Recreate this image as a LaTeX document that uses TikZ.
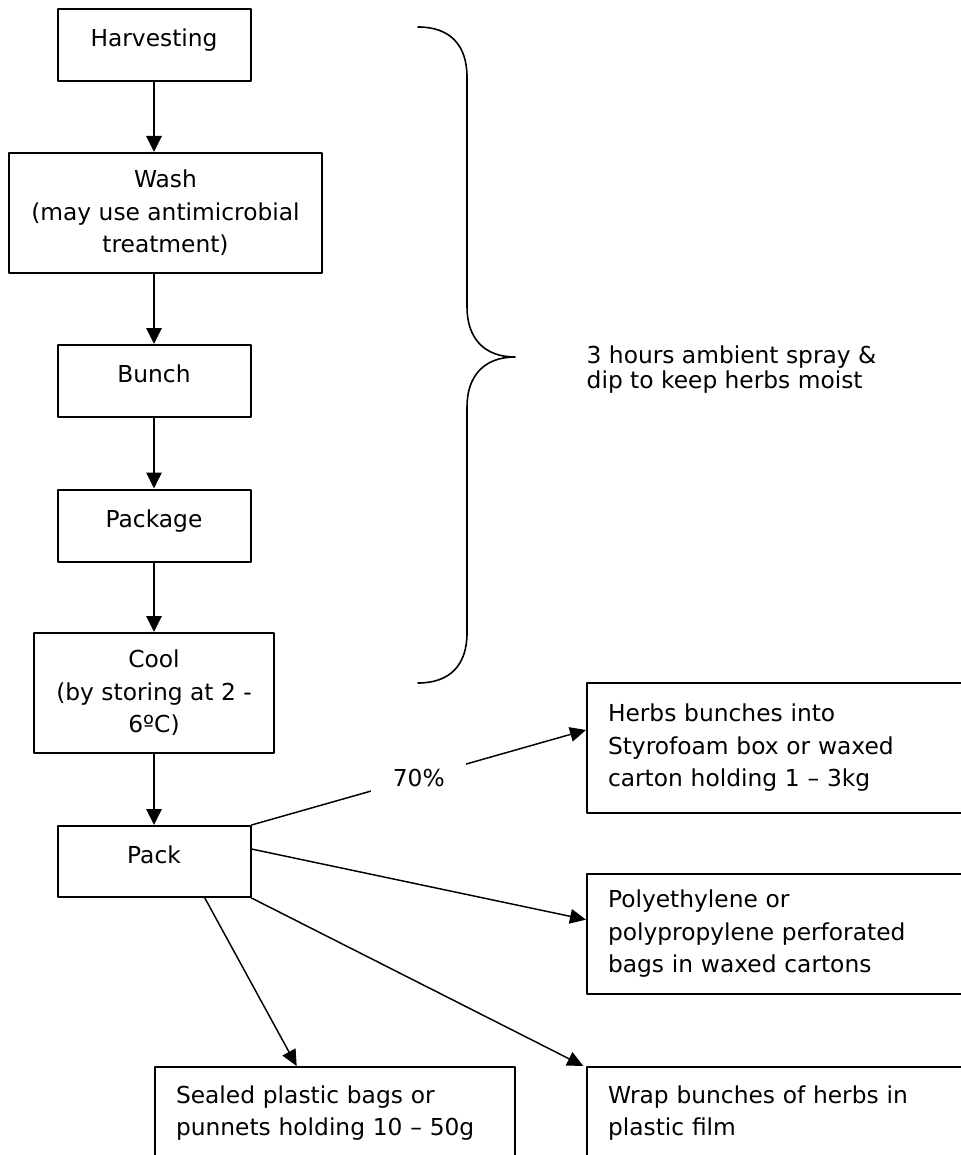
\documentclass[tikz,border=0pt]{standalone}
\usepackage{fontspec}
\setmainfont{DejaVu Sans}
\usetikzlibrary{arrows.meta}

\tikzset{
	txt/.style={font=\fontsize{17.5}{24.4}\selectfont},
	stepbox/.style={txt, draw, line width=1.5pt, align=center, inner sep=0pt},
	onebox/.style={stepbox, minimum width=144.75pt, minimum height=54pt, text height=13.3pt, text depth=11pt},
	outbox/.style={txt, draw, line width=1.5pt, anchor=north west, align=left, inner xsep=15.75pt, inner ysep=0pt},
	flow/.style={line width=1.4pt, -{Triangle[length=12pt,width=11.5pt]}},
	thin flow/.style={line width=1.1pt, -{Triangle[length=12pt,width=11pt]}}
}

\begin{document}
\begin{tikzpicture}[x=0.75pt, y=-0.75pt, line cap=round, line join=round]
	% Page window (pixel units, y down)
	\useasboundingbox (0,0) rectangle (960,1155);

	% Main chain of steps
	\node[onebox] (harv) at (154,45) {Harvesting};
	\node[stepbox, minimum width=234.75pt, minimum height=90pt] (wash) at (165.5,213)
		{Wash\\(may use antimicrobial\\treatment)};
	\node[onebox] (bunch) at (154,381) {Bunch};
	\node[onebox] (package) at (154,525.5) {Package};
	\node[stepbox, minimum width=180pt, minimum height=90pt] (cool) at (154,693)
		{Cool\\(by storing at 2 -\\6ºC)};
	\node[onebox, minimum height=53.25pt] (pack) at (154,861.5) {Pack};

	% Packing options
	\node[outbox, text width=268.5pt, minimum height=97.5pt] (herbs) at (586,682)
		{Herbs bunches into\\Styrofoam box or waxed\\carton holding 1 – 3kg};
	\node[outbox, text width=268.5pt, minimum height=90pt] (poly) at (586,873)
		{Polyethylene or\\polypropylene perforated\\bags in waxed cartons};
	\node[outbox, text width=238.5pt, minimum height=69pt] (sealed) at (154,1066)
		{Sealed plastic bags or\\punnets holding 10 – 50g};
	\node[outbox, text width=268.5pt, minimum height=69pt] (wrap) at (586,1066)
		{Wrap bunches of herbs in\\plastic film};

	% Vertical arrows
	\draw[flow] (harv.south) -- (harv.south |- wash.north);
	\draw[flow] (bunch.north |- wash.south) -- (bunch.north);
	\draw[flow] (bunch.south) -- (package.north);
	\draw[flow] (package.south) -- (cool.north);
	\draw[flow] (cool.south) -- (pack.north);

	% Arrows out of Pack
	\draw[thin flow] (pack.north east) -- ([yshift=-36pt]herbs.north west)
		node[pos=0.5, fill=white, inner xsep=16pt, inner ysep=6pt, txt] (share) {70\%};
	\draw[thin flow] ([yshift=-18pt]pack.north east) -- ([yshift=-35pt]poly.north west);
	\draw[thin flow] (pack.south east) -- ([xshift=-2pt]wrap.north west);
	\draw[thin flow] ([xshift=-35pt]pack.south east) -- ([xshift=107pt]sealed.north west);

	% Brace over the first five steps
	\draw[line width=1.2pt] (418,27) .. controls (450,27) and (467,45) .. (467,77)
		-- (467,307) .. controls (467,338) and (484,357) .. (515,357)
		.. controls (484,357) and (467,376) .. (467,407)
		-- (467,633) .. controls (467,665) and (450,683) .. (418,683);
	\node[txt, anchor=west, align=left, font=\fontsize{17.5}{18.8}\selectfont] (note) at (582,369.5)
		{3 hours ambient spray \&\\dip to keep herbs moist};
\end{tikzpicture}
\end{document}
